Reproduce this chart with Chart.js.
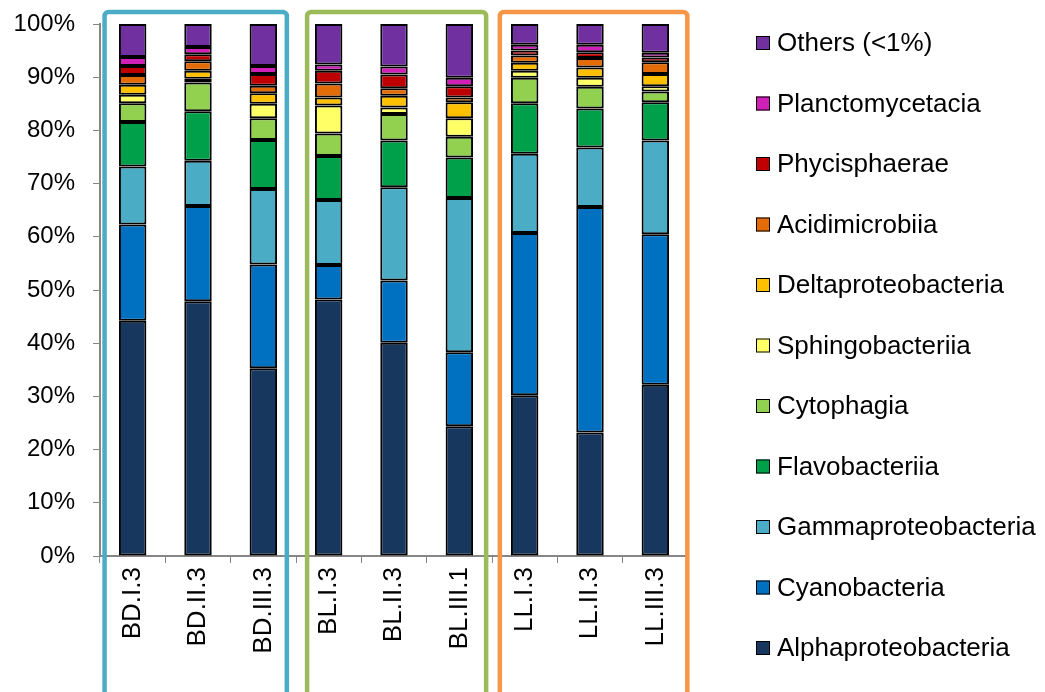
<!DOCTYPE html>
<html>
<head>
<meta charset="utf-8">
<script src="https://cdn.jsdelivr.net/npm/chart.js@4/dist/chart.umd.min.js"></script>
<style>
  html, body { margin: 0; padding: 0; background: #fff; }
  #wrap { width: 1045px; height: 692px; position: relative; }
</style>
</head>
<body>
<div id="wrap"><canvas id="taxaChart"></canvas></div>
<script>
// Sample names (x axis)
const samples = ['BD.I.3', 'BD.II.3', 'BD.III.3', 'BL.I.3', 'BL.II.3', 'BL.III.1', 'LL.I.3', 'LL.II.3', 'LL.III.3'];

// Relative abundance (%) per class, one value per sample
const alphaproteobacteria = [44.2, 47.9, 35.3, 48.2, 40.1, 24.4, 30.2, 23.2, 32.2];
const cyanobacteria       = [18.1, 17.9, 19.5, 6.5, 11.7, 13.9, 30.5, 42.4, 28.3];
const gammaproteobacteria = [10.9, 8.5, 14.2, 12.2, 17.5, 29.0, 14.9, 11.2, 17.6];
const flavobacteriia      = [8.4, 9.3, 9.2, 8.3, 8.8, 7.6, 9.5, 7.3, 7.2];
const cytophagia          = [3.5, 5.4, 4.1, 4.2, 5.0, 3.9, 4.8, 4.1, 2.0];
const sphingobacteriia    = [1.6, 0.7, 2.7, 5.3, 1.2, 3.5, 1.3, 1.7, 1.0];
const deltaproteobacteria = [1.9, 1.5, 2.0, 1.5, 2.2, 3.0, 1.5, 1.9, 2.3];
const acidimicrobiia      = [1.8, 1.8, 1.4, 2.6, 1.4, 0.9, 1.4, 1.8, 2.2];
const phycisphaerae       = [1.7, 1.3, 2.2, 2.4, 2.6, 2.1, 0.9, 1.1, 0.9];
const planctomycetacia    = [1.7, 1.4, 1.5, 1.2, 1.5, 1.6, 1.1, 1.4, 0.9];
const others              = [6.2, 4.3, 7.9, 7.6, 8.0, 10.1, 3.9, 3.9, 5.4];

// Y axis ticks
const yTicks = [0, 10, 20, 30, 40, 50, 60, 70, 80, 90, 100];

// Series in stacking order (bottom first)
const series = [
    { label: 'Alphaproteobacteria', data: alphaproteobacteria, color: '#17375E' },
    { label: 'Cyanobacteria', data: cyanobacteria, color: '#0070C0' },
    { label: 'Gammaproteobacteria', data: gammaproteobacteria, color: '#4BACC6' },
    { label: 'Flavobacteriia', data: flavobacteriia, color: '#00A04A' },
    { label: 'Cytophagia', data: cytophagia, color: '#92D050' },
    { label: 'Sphingobacteriia', data: sphingobacteriia, color: '#FFFF66' },
    { label: 'Deltaproteobacteria', data: deltaproteobacteria, color: '#FFC000' },
    { label: 'Acidimicrobiia', data: acidimicrobiia, color: '#E36C09' },
    { label: 'Phycisphaerae', data: phycisphaerae, color: '#C00000' },
    { label: 'Planctomycetacia', data: planctomycetacia, color: '#D020B8' },
    { label: 'Others (<1%)', data: others, color: '#7030A0' }
];

const FONT = 'Liberation Sans, Arial, sans-serif';
const AXIS_GREY = '#868686';

// Coloured frames around each site group (in category units)
const groupFrames = [
    { from: -0.43, to: 2.36, color: '#4BACC6' },
    { from: 2.67, to: 5.41, color: '#9BBB59' },
    { from: 5.62, to: 8.49, color: '#F79646' }
];

// Draws the group frames on top of the chart
const framePlugin = {
    id: 'groupFrames',
    afterDraw(chart) {
        const ctx = chart.ctx;
        const x = chart.scales.x;
        const step = x.getPixelForValue(1) - x.getPixelForValue(0);
        ctx.save();
        ctx.lineWidth = 4.5;
        groupFrames.forEach(f => {
            const left = x.getPixelForValue(0) + f.from * step;
            const right = x.getPixelForValue(0) + f.to * step;
            ctx.strokeStyle = f.color;
            ctx.beginPath();
            ctx.roundRect(left, 12, right - left, 700, 4);
            ctx.stroke();
        });
        ctx.restore();
    }
};

// Draws the legend on the right, Others at top
const legendPlugin = {
    id: 'sideLegend',
    afterDraw(chart) {
        const ctx = chart.ctx;
        const boxX = chart.chartArea.right + 68;
        ctx.save();
        ctx.font = '26px ' + FONT;
        ctx.textBaseline = 'middle';
        const items = chart.data.datasets.slice().reverse();
        items.forEach((ds, i) => {
            const y = 43 + i * 60.5;
            ctx.fillStyle = ds.backgroundColor;
            ctx.fillRect(boxX, y - 7, 14, 14);
            ctx.strokeStyle = '#000';
            ctx.lineWidth = 1;
            ctx.strokeRect(boxX + 0.5, y - 6.5, 13, 13);
            ctx.fillStyle = '#000';
            ctx.fillText(ds.label, boxX + 21, y + 1);
        });
        ctx.restore();
    }
};

const ctx = document.getElementById('taxaChart').getContext('2d');
const myChart = new Chart(ctx, {
    type: 'bar',
    data: {
        labels: samples,
        datasets: series.map(s => ({
            label: s.label,
            data: s.data,
            backgroundColor: s.color,
            borderColor: '#000',
            borderWidth: 2,
            borderSkipped: false,
            barPercentage: 0.42,
            categoryPercentage: 1
        }))
    },
    options: {
        responsive: true,
        maintainAspectRatio: false,
        animation: false,
        layout: { padding: { top: 24, right: 357, bottom: 0, left: 0 } },
        plugins: {
            legend: { display: false },
            tooltip: { enabled: false }
        },
        scales: {
            x: {
                stacked: true,
                afterFit: s => { s.height = 136; },
                grid: {
                    drawOnChartArea: false,
                    drawTicks: true,
                    tickLength: 7,
                    color: AXIS_GREY,
                    offset: true
                },
                border: { display: true, color: AXIS_GREY, width: 2 },
                ticks: {
                    color: '#000',
                    font: { family: FONT, size: 26 },
                    minRotation: 90,
                    maxRotation: 90,
                    padding: 4,
                    autoSkip: false
                }
            },
            y: {
                stacked: true,
                min: 0,
                max: 100,
                afterFit: s => {
                    s.width = 100;
                    // keep the label padding from pushing the plot down
                    s.paddingTop = 0;
                    s.paddingBottom = 0;
                },
                afterBuildTicks: s => { s.ticks = yTicks.map(v => ({ value: v })); },
                grid: {
                    drawOnChartArea: false,
                    drawTicks: true,
                    tickLength: 7,
                    color: AXIS_GREY
                },
                border: { display: true, color: AXIS_GREY, width: 2 },
                ticks: {
                    color: '#000',
                    font: { family: FONT, size: 24 },
                    padding: 18,
                    callback: v => v + '%'
                }
            }
        }
    },
    plugins: [framePlugin, legendPlugin]
});
</script>
</body>
</html>
